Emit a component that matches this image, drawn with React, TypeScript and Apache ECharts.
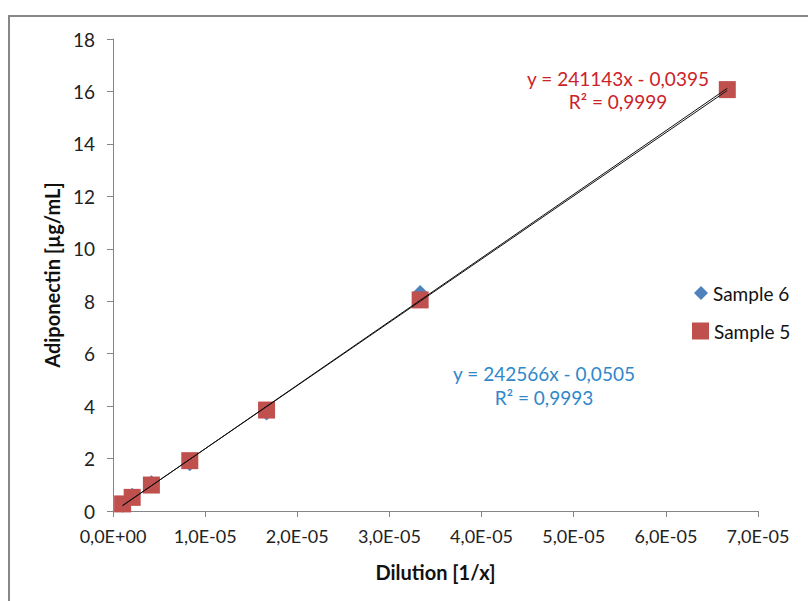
import React, { useEffect, useRef } from "react";
import * as echarts from "echarts";

const dilutions = [1.0417e-6, 2.0833e-6, 4.1667e-6, 8.3333e-6, 1.6667e-5, 3.3333e-5, 6.6667e-5];
const sample5 = [0.27, 0.52, 0.99, 1.92, 3.85, 8.05, 16.07];
const sample6 = [0.2, 0.62, 1.1, 1.78, 3.72, 8.35, 16.12];
const trend5 = { slope: 241143, intercept: -0.0395 };
const trend6 = { slope: 242566, intercept: -0.0505 };
const eq5 = ["y = 241143x - 0,0395", "R² = 0,9999"];
const eq6 = ["y = 242566x - 0,0505", "R² = 0,9993"];
const seriesNames = ["Sample 6", "Sample 5"];

const FONT = "Lato, 'Open Sans', sans-serif";

function fmtX(v: number): string {
  const s = v.toExponential(1);
  const [m, e] = s.split("e");
  const sign = e[0] === "-" ? "-" : "+";
  const digits = e.replace(/[+-]/, "").padStart(2, "0");
  return m.replace(".", ",") + "E" + sign + digits;
}

function trendLine(t: { slope: number; intercept: number }) {
  const x0 = Math.min(...dilutions);
  const x1 = Math.max(...dilutions);
  return [
    [x0, t.slope * x0 + t.intercept],
    [x1, t.slope * x1 + t.intercept],
  ];
}

export default function App() {
  const ref = useRef<HTMLDivElement>(null);
  useEffect(() => {
    document.body.style.margin = "0";
    const chart = echarts.init(ref.current!, null, { renderer: "svg" });
    const axisColor = "#868686";
    chart.setOption({
      animation: false,
      backgroundColor: "#fff",
      grid: { left: 113, right: 50, top: 39, bottom: 90, containLabel: false },
      xAxis: {
        type: "value",
        min: 0,
        max: 7e-5,
        interval: 1e-5,
        name: "Dilution [1/x]",
        nameLocation: "middle",
        nameGap: 51,
        nameTextStyle: { fontFamily: FONT, fontWeight: "bold", fontSize: 20, color: "#111" },
        axisLine: { show: true, lineStyle: { color: axisColor, width: 1 } },
        axisTick: { show: true, length: 6, lineStyle: { color: axisColor } },
        splitLine: { show: false },
        axisLabel: {
          formatter: (v: number) => fmtX(v),
          fontFamily: FONT,
          fontSize: 18,
          color: "#222",
          margin: 16,
        },
      },
      yAxis: {
        type: "value",
        min: 0,
        max: 18,
        interval: 2,
        name: "Adiponectin [µg/mL]",
        nameLocation: "middle",
        nameGap: 50,
        nameTextStyle: { fontFamily: FONT, fontWeight: "bold", fontSize: 20, color: "#111" },
        axisLine: { show: true, lineStyle: { color: axisColor, width: 1 } },
        axisTick: { show: true, length: 6, lineStyle: { color: axisColor } },
        splitLine: { show: false },
        axisLabel: { fontFamily: FONT, fontSize: 19, color: "#222", margin: 18 },
      },
      legend: [
        {
          data: [{ name: seriesNames[0], icon: "diamond" }],
          left: 689,
          top: 278,
          itemWidth: 14,
          itemHeight: 14,
          textStyle: { fontFamily: FONT, fontSize: 19, lineHeight: 20, color: "#111" },
        },
        {
          data: [{ name: seriesNames[1], icon: "rect" }],
          left: 687,
          top: 316,
          itemWidth: 17,
          itemHeight: 17,
          textStyle: { fontFamily: FONT, fontSize: 19, lineHeight: 20, color: "#111" },
        },
      ],
      series: [
        {
          name: seriesNames[0],
          type: "scatter",
          symbol: "diamond",
          symbolSize: 14,
          itemStyle: { color: "#4F81BD", opacity: 1 },
          data: dilutions.map((x, i) => [x, sample6[i]]),
          z: 2,
        },
        {
          name: seriesNames[1],
          type: "scatter",
          symbol: "rect",
          symbolSize: 17,
          itemStyle: { color: "#C0504D", opacity: 1 },
          data: dilutions.map((x, i) => [x, sample5[i]]),
          z: 3,
        },
        {
          name: "trend6",
          type: "line",
          showSymbol: false,
          symbol: "none",
          lineStyle: { color: "#111", width: 1 },
          data: trendLine(trend6),
          z: 4,
        },
        {
          name: "trend5",
          type: "line",
          showSymbol: false,
          symbol: "none",
          lineStyle: { color: "#111", width: 1 },
          data: trendLine(trend5),
          z: 4,
        },
      ],
      graphic: [
        {
          type: "rect",
          shape: { x: 9, y: 16, width: 1000, height: 800 },
          style: { fill: "none", stroke: "#878787", lineWidth: 2 },
          silent: true,
          z: 0,
        },
        {
          type: "text",
          x: 618,
          y: 78,
          style: { text: eq5[0], fill: "#CC2229", font: `19px ${FONT}`, textAlign: "center", textVerticalAlign: "middle" },
        },
        {
          type: "text",
          x: 618,
          y: 101,
          style: { text: eq5[1], fill: "#CC2229", font: `19px ${FONT}`, textAlign: "center", textVerticalAlign: "middle" },
        },
        {
          type: "text",
          x: 544,
          y: 373,
          style: { text: eq6[0], fill: "#2F88CA", font: `19px ${FONT}`, textAlign: "center", textVerticalAlign: "middle" },
        },
        {
          type: "text",
          x: 544,
          y: 397,
          style: { text: eq6[1], fill: "#2F88CA", font: `19px ${FONT}`, textAlign: "center", textVerticalAlign: "middle" },
        },
      ],
    });
    return () => chart.dispose();
  }, []);
  return <div ref={ref} style={{ width: 808, height: 601 }} />;
}
